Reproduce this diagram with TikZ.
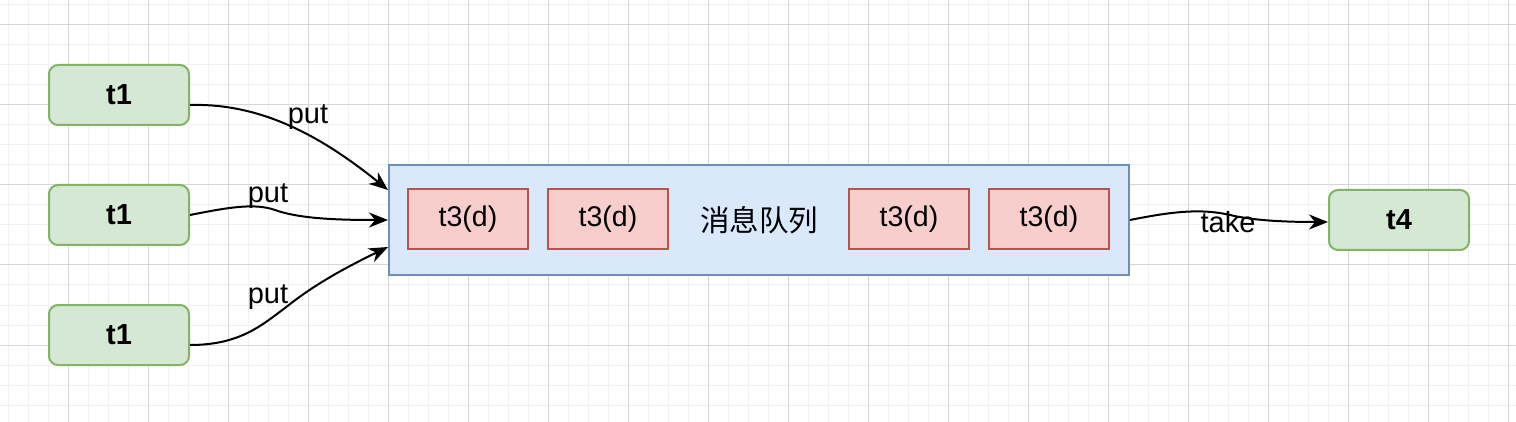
\documentclass[tikz,border=0pt]{standalone}
\usepackage{fontspec}
\setmainfont{Liberation Sans}
\newfontfamily\cjk{Noto Sans CJK SC}
\usetikzlibrary{arrows.meta,calc}
\definecolor{gfill}{HTML}{D5E8D4}
\definecolor{gline}{HTML}{82B366}
\definecolor{bfill}{HTML}{DAE8FC}
\definecolor{bline}{HTML}{6C8EBF}
\definecolor{rfill}{HTML}{F8CECC}
\definecolor{rline}{HTML}{B85450}
\definecolor{gridminor}{HTML}{F1F1F1}
\definecolor{gridmajor}{HTML}{D6D6D6}
\begin{document}
\begin{tikzpicture}[x=1pt,y=-1pt,
  thread/.style={draw=gline,fill=gfill,line width=2pt,rounded corners=9pt,
    minimum width=140pt,minimum height=60pt,inner sep=0pt,
    font=\fontsize{29}{34}\selectfont\bfseries},
  msg/.style={draw=rline,fill=rfill,line width=2pt,
    minimum width=120pt,minimum height=60pt,inner sep=0pt,
    font=\fontsize{28.5}{34}\selectfont},
  queue/.style={draw=bline,fill=bfill,line width=2pt,
    minimum width=740pt,minimum height=110pt,inner sep=0pt},
  conn/.style={line width=2pt,-{Stealth[length=19pt,width=15pt,inset=6pt]}},
  lbl/.style={inner sep=0pt,font=\fontsize{29}{34}\selectfont}]
\useasboundingbox (0,0) rectangle (1516,422);
\fill[white] (0,0) rectangle (1516,422);
% grid
\foreach \x in {8,28,...,1516} \draw[gridminor,line width=1pt] (\x,0) -- (\x,422);
\foreach \y in {5,25,...,422} \draw[gridminor,line width=1pt] (0,\y) -- (1516,\y);
\foreach \x in {68,148,...,1516} \draw[gridmajor,line width=1pt] (\x,0) -- (\x,422);
\foreach \y in {25,105,...,422} \draw[gridmajor,line width=1pt] (0,\y) -- (1516,\y);
% nodes
\node[thread] (ta) at (119,95) {t1};
\node[thread] (tb) at (119,215) {t1};
\node[thread] (tc) at (119,335) {t1};
\node[thread] (td) at (1399,220) {t4};
\node[queue] (q) at (759,220) {};
\node[msg] (m1) at (468,219.5) {t3(d)};
\node[msg] (m2) at (608,219.5) {t3(d)};
\node[msg] (m3) at (909,219.5) {t3(d)};
\node[msg] (m4) at (1049,219.5) {t3(d)};
\node[inner sep=0pt,font=\cjk\fontsize{29.5}{34}\selectfont] (qt) at (759,220) {消息队列};
% connectors
\coordinate (sa) at ([yshift=-10pt]ta.east);
\coordinate (sc) at ([yshift=-10pt]tc.east);
\coordinate (qa) at ([yshift=30pt]q.west);
\coordinate (qb) at (q.west);
\coordinate (qc) at ([yshift=-27pt]q.west);
\draw[conn] (sa) .. controls (260,103) and (320,135) .. (qa);
\draw[conn] (tb.east) .. controls (230,207) and (255,203) .. (275,210)
  .. controls (300,219) and (340,220) .. (qb);
\draw[conn] (sc) .. controls (240,345) and (262,325) .. (285,308)
  .. controls (305,292) and (330,275) .. (qc);
\draw[conn] (q.east) .. controls (1170,212) and (1200,208) .. (1230,215)
  .. controls (1255,221) and (1290,222) .. ([yshift=-2pt]td.west);
% labels
\node[lbl] (l1) at (308,117) {put};
\node[lbl] (l2) at (268,196) {put};
\node[lbl] (l3) at (268,297) {put};
\node[lbl] (l4) at (1228,222) {take};
\end{tikzpicture}
\end{document}
